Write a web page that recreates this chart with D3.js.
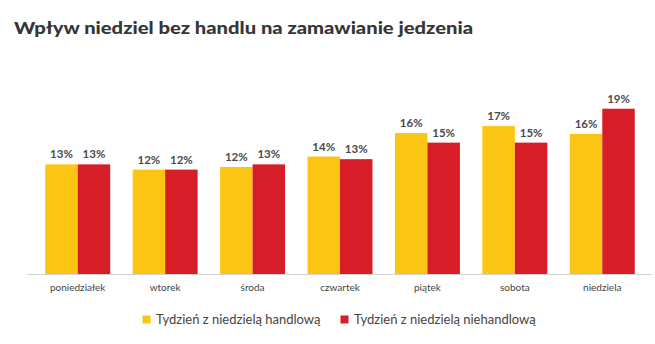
<!DOCTYPE html>
<html><head><meta charset="utf-8">
<script src="https://cdn.jsdelivr.net/npm/d3@7"></script>
<style>body{margin:0;background:#fff;}svg{display:block;}</style>
</head><body>
<svg id="c" width="655" height="344"></svg>
<script>
const categories = ["poniedziałek","wtorek","środa","czwartek","piątek","sobota","niedziela"];
const seriesNames = ["Tydzień z niedzielą handlową","Tydzień z niedzielą niehandlową"];
const handlowa = [12.6, 12.0, 12.3, 13.5, 16.2, 17.0, 16.1];
const niehandlowa = [12.6, 12.0, 12.6, 13.2, 15.1, 15.1, 19.0];
const colors = ["#FDC513", "#D71E28"];

const svg = d3.select("#c");
const W = 655, H = 344;
svg.append("rect").attr("width",W).attr("height",H).attr("fill","#fff");

svg.append("text").attr("x",14).attr("y",34)
  .attr("font-family","Lato").attr("font-weight","900").attr("font-size",17)
  .attr("fill","#363636")
  .attr("textLength",459).attr("lengthAdjust","spacingAndGlyphs")
  .text("Wpływ niedziel bez handlu na zamawianie jedzenia");

const x = d3.scaleBand().domain(categories).range([34,646]).paddingInner(0.257).paddingOuter(0.1285);
const xs = d3.scaleBand().domain([0,1]).range([0,x.bandwidth()]);
const y = d3.scaleLinear().domain([0,20]).range([274,100]);

const data = categories.map((c,i)=>({c, v:[handlowa[i], niehandlowa[i]]}));

svg.append("line").attr("x1",27).attr("x2",652).attr("y1",274.5).attr("y2",274.5)
  .attr("stroke","#d4d4d4").attr("stroke-width",1);

const g = svg.selectAll("g.grp").data(data).join("g").attr("class","grp")
  .attr("transform",d=>`translate(${x(d.c)},0)`);
g.selectAll("rect").data(d=>d.v).join("rect")
  .attr("x",(v,j)=>xs(j)).attr("width",xs.bandwidth())
  .attr("y",v=>y(v)).attr("height",v=>y(0)-y(v))
  .attr("fill",(v,j)=>colors[j]);
g.selectAll("text.val").data(d=>d.v).join("text").attr("class","val")
  .attr("x",(v,j)=>xs(j)+xs.bandwidth()/2).attr("y",v=>y(v)-6)
  .attr("text-anchor","middle").attr("font-family","Lato").attr("font-weight","700")
  .attr("font-size",11.5).attr("fill","#4a4a4a")
  .text(v=>Math.round(v)+"%");

const ax = svg.append("g").attr("transform","translate(0,274)")
  .call(d3.axisBottom(x).tickSize(0).tickPadding(10));
ax.select(".domain").remove();
ax.selectAll("text").attr("font-family","Lato").attr("font-size",10).attr("fill","#444");

const legX = [142.5, 340.5];
const leg = svg.selectAll("g.leg").data(seriesNames).join("g").attr("class","leg")
  .attr("transform",(d,i)=>`translate(${legX[i]},315.5)`);
leg.append("rect").attr("width",8).attr("height",8).attr("fill",(d,i)=>colors[i]);
leg.append("text").attr("x",13.5).attr("y",8).attr("font-family","Lato")
  .attr("font-size",13).attr("fill","#444").text(d=>d);
</script>
</body></html>
